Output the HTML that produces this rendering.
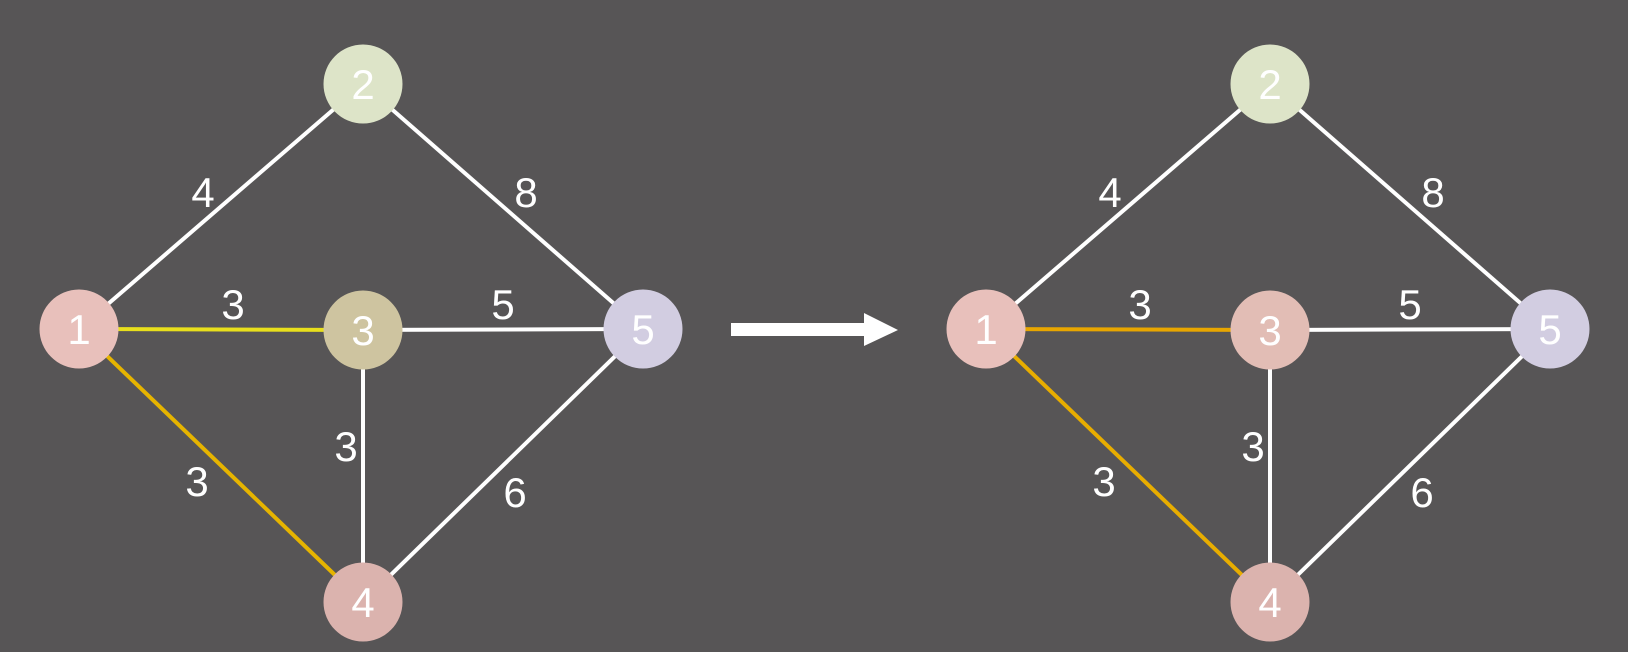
<!DOCTYPE html>
<html><head><meta charset="utf-8"><style>
html,body{margin:0;padding:0;background:#575556;}
svg{display:block;}
text{font-family:"Liberation Sans","DejaVu Sans",sans-serif;}
</style></head>
<body>
<svg id="chart" width="1628" height="652" viewBox="0 0 1628 652" xmlns="http://www.w3.org/2000/svg">
<rect width="1628" height="652" fill="#575556"/>
<polygon points="731,323 864,323 864,313 898,330 864,346 864,336 731,336" fill="#ffffff"/>
</svg>
<script>
const nodeIds = ["1","2","3","4","5"];
const nodeX = [0, 284, 284, 284, 564];
const nodeY = [245, 0, 246, 518, 245];
const edgeFrom = [0, 1, 0, 2, 2, 0, 4];
const edgeTo = [1, 4, 2, 4, 3, 3, 3];
const edgeWeights = ["4","8","3","5","3","3","6"];
const leftEdgeColors = ["#ffffff","#ffffff","#e8df1c","#ffffff","#ffffff","#e6b400","#ffffff"];
const rightEdgeColors = ["#ffffff","#ffffff","#e8a600","#ffffff","#ffffff","#e8ad00","#ffffff"];
const leftNodeColors = ["#e8c0bb","#dde4c8","#cec4a0","#dbb3ae","#d2cde1"];
const rightNodeColors = ["#e8c0bb","#dde4c8","#e2bdb5","#dbb3ae","#d2cde1"];
const labelOffsets = [[124,108],[447,108],[154,220],[424,220],[267,362],[118,397],[436,408]];

const svg = document.getElementById('chart');
const NS = 'http://www.w3.org/2000/svg';
function sx(v, ox){ return ox + v; }
function sy(v){ return 84 + v; }
function drawGraph(ox, edgeColors, nodeColors, side){
  const g = document.createElementNS(NS,'g');
  
  
  svg.appendChild(g);
  edgeFrom.forEach((f,i)=>{
    const t = edgeTo[i];
    const l = document.createElementNS(NS,'line');
    l.setAttribute('x1', sx(nodeX[f],ox)); l.setAttribute('y1', sy(nodeY[f]));
    l.setAttribute('x2', sx(nodeX[t],ox)); l.setAttribute('y2', sy(nodeY[t]));
    l.setAttribute('stroke', edgeColors[i]); l.setAttribute('stroke-width', '4');
    
    
    g.appendChild(l);
  });
  edgeFrom.forEach((f,i)=>{
    const t = edgeTo[i];
    const tx = document.createElementNS(NS,'text');
    tx.setAttribute('x', sx(labelOffsets[i][0], ox));
    tx.setAttribute('y', sy(labelOffsets[i][1]) + 15);
    tx.setAttribute('fill', '#ffffff'); tx.setAttribute('font-size', '42');
    tx.setAttribute('text-anchor', 'middle');
    tx.textContent = edgeWeights[i];
    
    
    g.appendChild(tx);
  });
  nodeIds.forEach((id,i)=>{
    const c = document.createElementNS(NS,'circle');
    c.setAttribute('cx', sx(nodeX[i],ox)); c.setAttribute('cy', sy(nodeY[i]));
    c.setAttribute('r', '39.5'); c.setAttribute('fill', nodeColors[i]);
    
    
    g.appendChild(c);
    const tx = document.createElementNS(NS,'text');
    tx.setAttribute('x', sx(nodeX[i],ox)); tx.setAttribute('y', sy(nodeY[i]) + 15);
    tx.setAttribute('fill', '#ffffff'); tx.setAttribute('font-size', '42');
    tx.setAttribute('text-anchor', 'middle');
    tx.textContent = id;
    
    
    g.appendChild(tx);
  });
}
drawGraph(79, leftEdgeColors, leftNodeColors, 'left');
drawGraph(986, rightEdgeColors, rightNodeColors, 'right');
</script>
</body></html>
